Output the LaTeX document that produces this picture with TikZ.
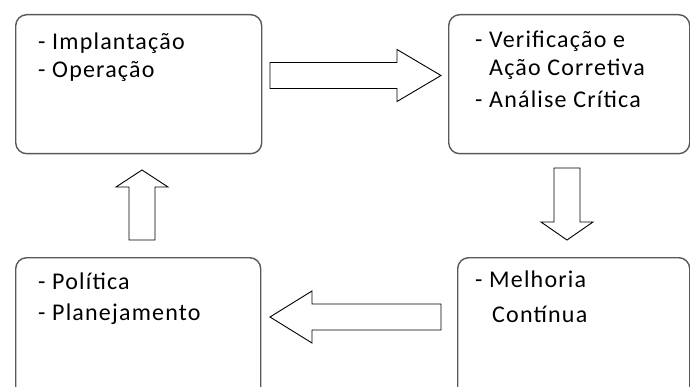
\documentclass[tikz,border=0pt]{standalone}
\usepackage{fontspec}
\setmainfont{Carlito}[LetterSpace=5]
\usetikzlibrary{positioning}

\tikzset{
	Caixa/.style={draw=black!65, line width=1.4pt, rounded corners=11pt, anchor=north west, inner sep=0pt},
	Texto/.style={inner sep=0pt, align=left, font=\fontsize{24}{28}\selectfont, execute at begin node=\strut},
	SetaLinha/.style={draw=black, line width=0.9pt, fill=white, line join=miter},
	pics/seta/.style 2 args={code={
		\draw[SetaLinha] (0,-13) -- (#1-#2,-13) -- (#1-#2,-26) -- (#1,0) -- (#1-#2,26) -- (#1-#2,13) -- (0,13) -- cycle;
	}}
}

\begin{document}
\begin{tikzpicture}[x=1pt, y=-1pt]
			\useasboundingbox (0,0) rectangle (690,387);
			\clip (0,0) rectangle (690,387);
			\node[Caixa, minimum width=246pt, minimum height=139pt] (Impl) at (15,14) {};
			\node[Caixa, minimum width=241pt, minimum height=139pt] (Verif) at (448,14) {};
			\node[Caixa, minimum width=245pt, minimum height=145pt] (Polit) at (15,257) {};
			\node[Caixa, minimum width=232pt, minimum height=145pt] (Melh) at (457,257) {};
			\node[Texto, below right=18.4pt and 23pt of Impl.north west] (tImpl) {- Implantação\\- Operação};
			\node[Texto, below right=16.4pt and 27pt of Verif.north west] (tVerif) {- Verificação e\\\phantom{- }Ação Corretiva\\[4pt]- Análise Crítica};
			\node[Texto, below right=15.4pt and 23pt of Polit.north west] (tPolit) {- Política\\[3pt]- Planejamento};
			\node[Texto, below right=13.4pt and 18pt of Melh.north west] (tMelh) {- Melhoria\\[7pt]\hspace*{17pt}Contínua};
			\coordinate (dir) at (270,75.5);
			\coordinate (baixo) at (567,168);
			\coordinate (esq) at (441,317);
			\coordinate (cima) at (142,240);
			\pic[rotate=0] at (dir) {seta={171}{44}};
			\pic[rotate=270] at (baixo) {seta={72}{18}};
			\pic[rotate=180] at (esq) {seta={171}{42}};
			\pic[rotate=90] at (cima) {seta={70}{17}};
			\end{tikzpicture}
\end{document}
